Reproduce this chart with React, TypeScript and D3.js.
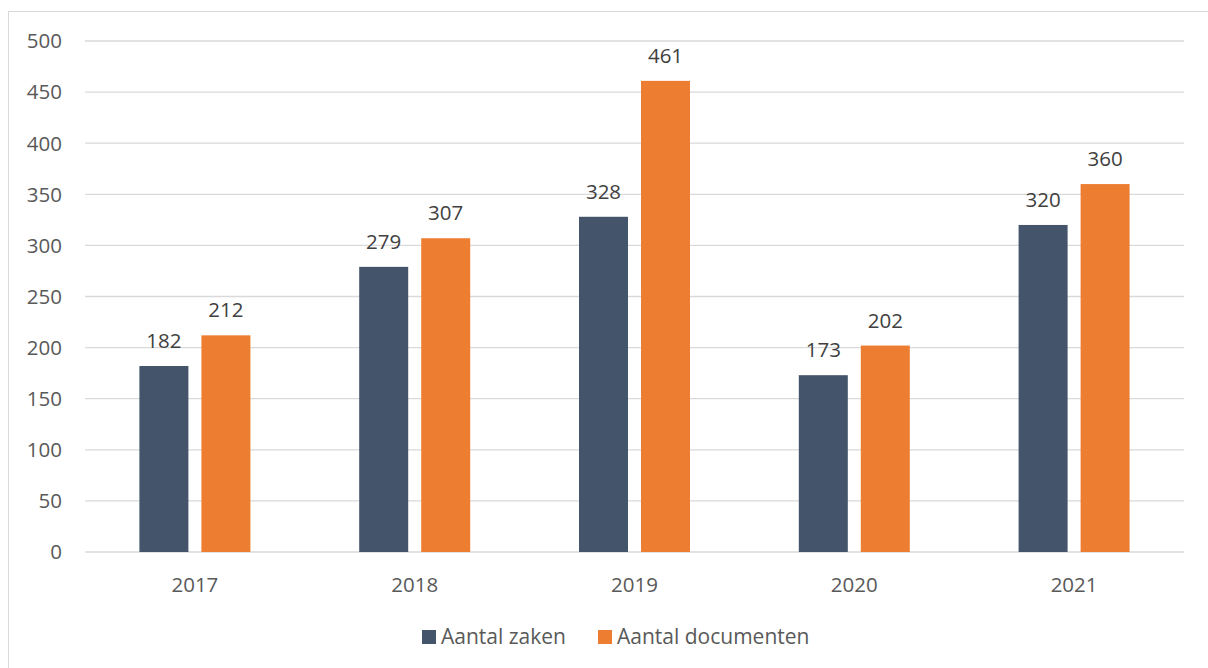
import React from "react";
import * as d3 from "d3";

const years = ["2017", "2018", "2019", "2020", "2021"];
const zaken = [182, 279, 328, 173, 320];
const documenten = [212, 307, 461, 202, 360];
const seriesNames = ["Aantal zaken", "Aantal documenten"];
const seriesColors = ["#44546A", "#ED7D31"];
const yTicks = [0, 50, 100, 150, 200, 250, 300, 350, 400, 450, 500];

export default function App() {
  const W = 1208, H = 668;
  const left = 85, right = 1184, top = 41, bottom = 552;
  const font = "'Open Sans', 'Noto Sans', sans-serif";
  const textColor = "#595959";
  const fs = 20.5;
  const x0 = d3.scaleBand<string>().domain(years).range([left, right]).paddingInner(0).paddingOuter(0);
  const y = d3.scaleLinear().domain([0, 500]).range([bottom, top]);
  const bw = 49, gap = 13;
  const series = [zaken, documenten];

  return (
    <svg width={W} height={H} style={{ position: "absolute", left: 0, top: 0 }}>
      <rect x={8.5} y={11.5} width={W} height={H} fill="#fff" stroke="#D9D9D9" strokeWidth={1} />
      {yTicks.map((t) => (
        <g key={t}>
          <line x1={left} x2={right} y1={y(t)} y2={y(t)} stroke="#D9D9D9" strokeWidth={1.3} />
          <text x={62} y={y(t)} dy="0.36em" textAnchor="end" fontFamily={font} fontSize={fs} fill={textColor}>{t}</text>
        </g>
      ))}
      {years.map((yr, i) => {
        const cx = (x0(yr) as number) + x0.bandwidth() / 2;
        return (
          <g key={yr}>
            {series.map((s, k) => {
              const bx = k === 0 ? cx - gap / 2 - bw : cx + gap / 2;
              const v = s[i];
              return (
                <g key={k}>
                  <rect x={bx} y={y(v)} width={bw} height={y(0) - y(v)} fill={seriesColors[k]} />
                  <text x={bx + bw / 2} y={y(v) - 18} textAnchor="middle" fontFamily={font} fontSize={fs} fill="#404040">{v}</text>
                </g>
              );
            })}
            <text x={cx} y={592} textAnchor="middle" fontFamily={font} fontSize={fs} fill={textColor}>{yr}</text>
          </g>
        );
      })}
      {seriesNames.map((n, k) => {
        const lx = k === 0 ? 422 : 598;
        return (
          <g key={n}>
            <rect x={lx} y={630} width={14} height={14} fill={seriesColors[k]} />
            <text x={lx + 19} y={644} fontFamily={font} fontSize={21} fill={textColor}>{n}</text>
          </g>
        );
      })}
    </svg>
  );
}
